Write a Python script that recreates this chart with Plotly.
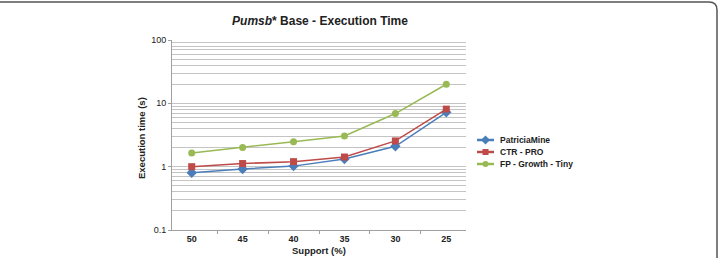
import plotly.graph_objects as go

categories = ["50", "45", "40", "35", "30", "25"]
patricia = [0.80, 0.92, 1.02, 1.32, 2.1, 7.2]
ctr_pro = [1.0, 1.12, 1.2, 1.42, 2.55, 8.1]
fp_tiny = [1.65, 2.0, 2.48, 3.05, 6.9, 20.0]
series_names = ["PatriciaMine", "CTR - PRO", "FP - Growth - Tiny"]
y_tickvals = [0.1, 1, 10, 100]
y_ticktext = ["0.1", "1", "10", "100"]

W, H = 719, 258
L, R, T, B = 172, 466, 40, 230

def fx(x):
    return x / W

def fy(y):
    return 1 - y / H

font = "Liberation Sans, Arial, sans-serif"
dark = "#222222"

fig = go.Figure()
styles = [("#4a7ebb", "diamond", 8), ("#be4b48", "square", 7), ("#98b954", "circle", 7)]
data = [patricia, ctr_pro, fp_tiny]
for name, vals, (col, sym, sz) in zip(series_names, data, styles):
    fig.add_trace(go.Scatter(
        x=categories, y=vals, name=name, mode="lines+markers",
        line=dict(color=col, width=1.5),
        marker=dict(color=col, symbol=sym, size=sz),
        showlegend=False,
    ))

# custom compact legend on a pixel-coordinate overlay axis
leg_x0, leg_x1, leg_text_x = 477, 494, 498
leg_y = [140, 152, 164]
for name, (col, sym, sz), yy in zip(series_names, styles, leg_y):
    fig.add_trace(go.Scatter(
        x=[leg_x0, leg_x1], y=[yy, yy], xaxis="x2", yaxis="y2",
        mode="lines", line=dict(color=col, width=2.5), showlegend=False,
        hoverinfo="skip",
    ))
    fig.add_trace(go.Scatter(
        x=[(leg_x0 + leg_x1) / 2], y=[yy], xaxis="x2", yaxis="y2",
        mode="markers", marker=dict(color=col, symbol=sym, size=sz - 1),
        showlegend=False, hoverinfo="skip",
    ))
    fig.add_annotation(x=fx(leg_text_x), y=fy(yy), xref="paper", yref="paper",
                       text=f"<b>{name}</b>", showarrow=False,
                       xanchor="left", yanchor="middle",
                       font=dict(size=8.5, color=dark))

# axis titles
fig.add_annotation(x=fx((L + R) / 2), y=fy(258), xref="paper", yref="paper",
                   text="<b>Support (%)</b>", showarrow=False,
                   xanchor="center", yanchor="bottom", font=dict(size=9.5, color=dark))
fig.add_annotation(x=fx(141), y=fy(138), xref="paper", yref="paper",
                   text="<b>Execution time (s)</b>", showarrow=False, textangle=-90,
                   xanchor="center", yanchor="middle", font=dict(size=9.5, color=dark))

# frame (top and right edges with rounded corner)
r = 8
frame = dict(color="#555555", width=1.5)
fig.add_shape(type="path", xref="paper", yref="paper",
              path=(f"M {fx(0)},{fy(2)} L {fx(717 - r)},{fy(2)} "
                    f"Q {fx(717)},{fy(2)} {fx(717)},{fy(2 + r)} L {fx(717)},{fy(262)}"),
              line=frame, layer="above")

fig.update_layout(
    width=W, height=H,
    margin=dict(l=0, r=0, t=0, b=0, autoexpand=False),
    paper_bgcolor="white", plot_bgcolor="rgba(0,0,0,0)",
    font=dict(family=font, size=9, color=dark),
    title=dict(text="<b><i>Pumsb</i>* Base - Execution Time</b>",
               x=320 / W, xanchor="center", y=1 - 21 / H, yanchor="middle",
               font=dict(size=12, color=dark)),
    showlegend=False,
    xaxis=dict(
        domain=[L / W, R / W],
        type="category", showline=True, linecolor="#a0a0a0", linewidth=1,
        ticks="outside", tickson="boundaries", ticklen=3, tickcolor="#a0a0a0",
        showgrid=False, tickfont=dict(size=9, color=dark),
        tickprefix="<b>", ticksuffix="</b>", automargin=False,
    ),
    yaxis=dict(
        domain=[(H - B) / H, (H - T) / H],
        type="log", range=[-1, 2], tickvals=y_tickvals, ticktext=y_ticktext,
        showline=True, linecolor="#a0a0a0", linewidth=1,
        ticks="outside", ticklen=3, tickcolor="#a0a0a0",
        showgrid=True, gridcolor="#c4c4c4", gridwidth=1,
        minor=dict(dtick="D1", showgrid=True, gridcolor="#c4c4c4", gridwidth=1, ticks=""),
        tickfont=dict(size=9, color=dark),
        tickprefix="<b>", ticksuffix="</b>",
        zeroline=False, automargin=False,
    ),
    xaxis2=dict(domain=[0, 1], range=[0, W], visible=False, anchor="y2",
                fixedrange=True),
    yaxis2=dict(domain=[0, 1], range=[H, 0], visible=False, anchor="x2",
                fixedrange=True),
)

fig.write_html("out.html")
